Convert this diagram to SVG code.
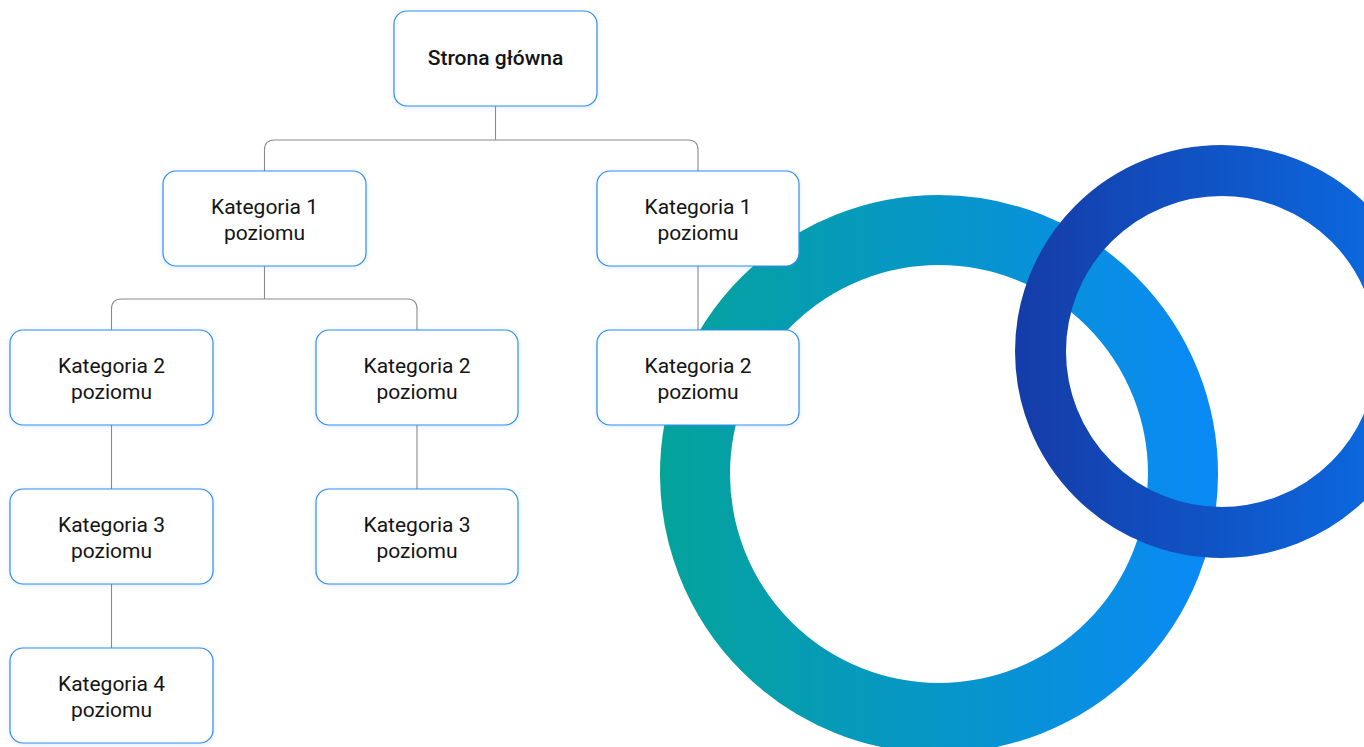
<svg xmlns="http://www.w3.org/2000/svg" width="1364" height="747" viewBox="0 0 1364 747">
  <defs>
    <linearGradient id="gTeal" gradientUnits="userSpaceOnUse" x1="660" y1="0" x2="1218" y2="0">
      <stop offset="0" stop-color="#03A39A"/>
      <stop offset="1" stop-color="#0A89F7"/>
    </linearGradient>
    <linearGradient id="gBlue" gradientUnits="userSpaceOnUse" x1="1015" y1="0" x2="1428" y2="0">
      <stop offset="0" stop-color="#153CA8"/>
      <stop offset="1" stop-color="#0A6EE6"/>
    </linearGradient>
    <filter id="glow" x="-20%" y="-20%" width="140%" height="140%">
      <feDropShadow dx="0" dy="1" stdDeviation="2.5" flood-color="#3B8EF0" flood-opacity="0.18"/>
    </filter>
  </defs>
  <style>
    .node rect { fill: #ffffff; stroke: #2F8CF5; stroke-width: 1.2; filter: url(#glow); }
    .node text { font-family: Roboto, "Liberation Sans", sans-serif; font-size: 21px; fill: #141414; text-anchor: middle; }
    .node text.main { font-weight: 500; font-size: 21px; }
    #connectors path { fill: none; stroke: #8a8a8a; stroke-width: 1.1; }
  </style>
  <rect width="1364" height="747" fill="#ffffff"/>
  <g id="decor">
    <circle cx="939" cy="474" r="244" fill="none" stroke="url(#gTeal)" stroke-width="70"/>
    <circle cx="1221.5" cy="351.5" r="181" fill="none" stroke="url(#gBlue)" stroke-width="51"/>
  </g>
  <g id="connectors">
    <path d="M495.5 106 V140"/>
    <path d="M264.5 171 V150 Q264.5 140 274.5 140 H688 Q698 140 698 150 V171"/>
    <path d="M264.5 266 V299"/>
    <path d="M111.5 330 V309 Q111.5 299 121.5 299 H407 Q417 299 417 309 V330"/>
    <path d="M698 266 V330"/>
    <path d="M111.5 425 V489"/>
    <path d="M111.5 584 V648"/>
    <path d="M417 425 V489"/>
  </g>
  <g id="root" class="node">
    <rect x="394" y="11" width="203" height="95" rx="13"/>
    <text class="main" x="495.5" y="65">Strona główna</text>
  </g>
  <g id="k1a" class="node">
    <rect x="163" y="171" width="203" height="95" rx="13"/>
    <text x="264.5" y="214">Kategoria 1</text>
    <text x="264.5" y="240">poziomu</text>
  </g>
  <g id="k1b" class="node">
    <rect x="597" y="171" width="202" height="95" rx="13"/>
    <text x="698" y="214">Kategoria 1</text>
    <text x="698" y="240">poziomu</text>
  </g>
  <g id="k2a" class="node">
    <rect x="10" y="330" width="203" height="95" rx="13"/>
    <text x="111.5" y="373">Kategoria 2</text>
    <text x="111.5" y="399">poziomu</text>
  </g>
  <g id="k2b" class="node">
    <rect x="316" y="330" width="202" height="95" rx="13"/>
    <text x="417" y="373">Kategoria 2</text>
    <text x="417" y="399">poziomu</text>
  </g>
  <g id="k2c" class="node">
    <rect x="597" y="330" width="202" height="95" rx="13"/>
    <text x="698" y="373">Kategoria 2</text>
    <text x="698" y="399">poziomu</text>
  </g>
  <g id="k3a" class="node">
    <rect x="10" y="489" width="203" height="95" rx="13"/>
    <text x="111.5" y="532">Kategoria 3</text>
    <text x="111.5" y="558">poziomu</text>
  </g>
  <g id="k3b" class="node">
    <rect x="316" y="489" width="202" height="95" rx="13"/>
    <text x="417" y="532">Kategoria 3</text>
    <text x="417" y="558">poziomu</text>
  </g>
  <g id="k4a" class="node">
    <rect x="10" y="648" width="203" height="95" rx="13"/>
    <text x="111.5" y="691">Kategoria 4</text>
    <text x="111.5" y="717">poziomu</text>
  </g>
</svg>
